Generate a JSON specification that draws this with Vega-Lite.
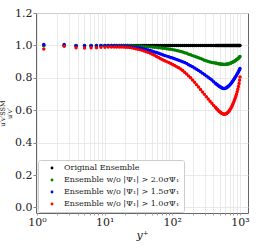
{
  "$schema": "https://vega.github.io/schema/vega-lite/v6.json",
  "autosize": {"type": "none"},
  "padding": {"left": 36, "top": 13, "right": 10, "bottom": 37},
  "width": 212,
  "height": 200,
  "background": "white",
  "config": {
    "view": {"stroke": "#666666", "strokeWidth": 1},
    "font": "DejaVu Serif"
  },
  "data": {
    "values": [
      {"y": 1.26, "k": 1, "g": 0.999, "b": 1.005, "r": 0.978},
      {"y": 2.52, "k": 1, "g": 1.0, "b": 1.006, "r": 0.995},
      {"y": 3.78, "k": 1, "g": 0.998, "b": 0.997, "r": 0.985},
      {"y": 5.04, "k": 1, "g": 0.998, "b": 0.997, "r": 0.984},
      {"y": 6.3, "k": 1, "g": 0.999, "b": 0.997, "r": 0.985},
      {"y": 7.56, "k": 1, "g": 0.999, "b": 0.997, "r": 0.986},
      {"y": 8.82, "k": 1, "g": 0.999, "b": 0.998, "r": 0.988},
      {"y": 10.1, "k": 1, "g": 1.0, "b": 0.998, "r": 0.989},
      {"y": 11.3, "k": 1, "g": 1.0, "b": 0.998, "r": 0.99},
      {"y": 12.6, "k": 1, "g": 1.0, "b": 0.998, "r": 0.99},
      {"y": 13.9, "k": 1, "g": 1.0, "b": 0.998, "r": 0.99},
      {"y": 15.1, "k": 1, "g": 1.0, "b": 0.997, "r": 0.99},
      {"y": 16.4, "k": 1, "g": 1.0, "b": 0.997, "r": 0.99},
      {"y": 17.7, "k": 1, "g": 1.0, "b": 0.997, "r": 0.99},
      {"y": 19.0, "k": 1, "g": 1.0, "b": 0.996, "r": 0.99},
      {"y": 20.4, "k": 1, "g": 0.9995, "b": 0.996, "r": 0.989},
      {"y": 21.9, "k": 1, "g": 0.999, "b": 0.995, "r": 0.988},
      {"y": 23.5, "k": 1, "g": 0.999, "b": 0.994, "r": 0.987},
      {"y": 25.2, "k": 1, "g": 0.998, "b": 0.993, "r": 0.985},
      {"y": 27.0, "k": 1, "g": 0.998, "b": 0.991, "r": 0.983},
      {"y": 29.0, "k": 1, "g": 0.997, "b": 0.989, "r": 0.98},
      {"y": 31.1, "k": 1, "g": 0.997, "b": 0.987, "r": 0.977},
      {"y": 33.4, "k": 1, "g": 0.996, "b": 0.985, "r": 0.974},
      {"y": 35.8, "k": 1, "g": 0.995, "b": 0.982, "r": 0.97},
      {"y": 38.4, "k": 1, "g": 0.994, "b": 0.979, "r": 0.966},
      {"y": 41.2, "k": 1, "g": 0.993, "b": 0.975, "r": 0.961},
      {"y": 44.2, "k": 1, "g": 0.992, "b": 0.972, "r": 0.957},
      {"y": 47.4, "k": 1, "g": 0.991, "b": 0.968, "r": 0.951},
      {"y": 50.8, "k": 1, "g": 0.99, "b": 0.964, "r": 0.945},
      {"y": 54.5, "k": 1, "g": 0.989, "b": 0.96, "r": 0.939},
      {"y": 58.4, "k": 1, "g": 0.988, "b": 0.956, "r": 0.932},
      {"y": 62.6, "k": 1, "g": 0.986, "b": 0.952, "r": 0.925},
      {"y": 67.1, "k": 1, "g": 0.985, "b": 0.947, "r": 0.918},
      {"y": 71.9, "k": 1, "g": 0.983, "b": 0.943, "r": 0.912},
      {"y": 77.0, "k": 1, "g": 0.982, "b": 0.938, "r": 0.906},
      {"y": 82.5, "k": 1, "g": 0.98, "b": 0.934, "r": 0.9},
      {"y": 88.4, "k": 1, "g": 0.978, "b": 0.93, "r": 0.894},
      {"y": 94.7, "k": 1, "g": 0.976, "b": 0.926, "r": 0.888},
      {"y": 101, "k": 1, "g": 0.974, "b": 0.922, "r": 0.882},
      {"y": 108, "k": 1, "g": 0.972, "b": 0.918, "r": 0.876},
      {"y": 116, "k": 1, "g": 0.969, "b": 0.913, "r": 0.869},
      {"y": 124, "k": 1, "g": 0.966, "b": 0.909, "r": 0.862},
      {"y": 133, "k": 1, "g": 0.962, "b": 0.904, "r": 0.854},
      {"y": 142, "k": 1, "g": 0.959, "b": 0.899, "r": 0.845},
      {"y": 152, "k": 1, "g": 0.955, "b": 0.894, "r": 0.835},
      {"y": 163, "k": 1, "g": 0.951, "b": 0.888, "r": 0.824},
      {"y": 174, "k": 1, "g": 0.946, "b": 0.881, "r": 0.812},
      {"y": 186, "k": 1, "g": 0.942, "b": 0.875, "r": 0.8},
      {"y": 199, "k": 1, "g": 0.937, "b": 0.868, "r": 0.787},
      {"y": 213, "k": 1, "g": 0.933, "b": 0.861, "r": 0.773},
      {"y": 228, "k": 1, "g": 0.929, "b": 0.853, "r": 0.758},
      {"y": 244, "k": 1, "g": 0.924, "b": 0.845, "r": 0.743},
      {"y": 261, "k": 1, "g": 0.919, "b": 0.837, "r": 0.728},
      {"y": 279, "k": 1, "g": 0.914, "b": 0.829, "r": 0.713},
      {"y": 298, "k": 1, "g": 0.909, "b": 0.821, "r": 0.698},
      {"y": 318, "k": 1, "g": 0.905, "b": 0.812, "r": 0.684},
      {"y": 339, "k": 1, "g": 0.901, "b": 0.803, "r": 0.67},
      {"y": 361, "k": 1, "g": 0.898, "b": 0.795, "r": 0.656},
      {"y": 384, "k": 1, "g": 0.895, "b": 0.786, "r": 0.643},
      {"y": 408, "k": 1, "g": 0.893, "b": 0.776, "r": 0.63},
      {"y": 433, "k": 1, "g": 0.891, "b": 0.766, "r": 0.618},
      {"y": 446, "k": 1, "g": 0.89, "b": 0.762, "r": 0.612},
      {"y": 459, "k": 1, "g": 0.889, "b": 0.758, "r": 0.606},
      {"y": 472, "k": 1, "g": 0.888, "b": 0.754, "r": 0.601},
      {"y": 486, "k": 1, "g": 0.887, "b": 0.75, "r": 0.596},
      {"y": 500, "k": 1, "g": 0.886, "b": 0.746, "r": 0.591},
      {"y": 514, "k": 1, "g": 0.885, "b": 0.743, "r": 0.587},
      {"y": 528, "k": 1, "g": 0.8845, "b": 0.74, "r": 0.583},
      {"y": 543, "k": 1, "g": 0.884, "b": 0.737, "r": 0.58},
      {"y": 558, "k": 1, "g": 0.8835, "b": 0.735, "r": 0.578},
      {"y": 573, "k": 1, "g": 0.883, "b": 0.734, "r": 0.576},
      {"y": 588, "k": 1, "g": 0.883, "b": 0.734, "r": 0.576},
      {"y": 604, "k": 1, "g": 0.883, "b": 0.735, "r": 0.576},
      {"y": 620, "k": 1, "g": 0.8835, "b": 0.737, "r": 0.578},
      {"y": 636, "k": 1, "g": 0.884, "b": 0.74, "r": 0.58},
      {"y": 652, "k": 1, "g": 0.885, "b": 0.743, "r": 0.584},
      {"y": 669, "k": 1, "g": 0.886, "b": 0.747, "r": 0.588},
      {"y": 686, "k": 1, "g": 0.8875, "b": 0.751, "r": 0.594},
      {"y": 703, "k": 1, "g": 0.889, "b": 0.755, "r": 0.6},
      {"y": 720, "k": 1, "g": 0.8905, "b": 0.76, "r": 0.607},
      {"y": 738, "k": 1, "g": 0.892, "b": 0.765, "r": 0.614},
      {"y": 756, "k": 1, "g": 0.894, "b": 0.771, "r": 0.623},
      {"y": 774, "k": 1, "g": 0.896, "b": 0.777, "r": 0.632},
      {"y": 792, "k": 1, "g": 0.898, "b": 0.783, "r": 0.642},
      {"y": 811, "k": 1, "g": 0.9, "b": 0.79, "r": 0.652},
      {"y": 830, "k": 1, "g": 0.9025, "b": 0.796, "r": 0.663},
      {"y": 849, "k": 1, "g": 0.905, "b": 0.803, "r": 0.674},
      {"y": 868, "k": 1, "g": 0.908, "b": 0.809, "r": 0.686},
      {"y": 888, "k": 1, "g": 0.911, "b": 0.816, "r": 0.699},
      {"y": 908, "k": 1, "g": 0.9145, "b": 0.823, "r": 0.714},
      {"y": 928, "k": 1, "g": 0.918, "b": 0.83, "r": 0.73},
      {"y": 948, "k": 1, "g": 0.921, "b": 0.837, "r": 0.747},
      {"y": 969, "k": 1, "g": 0.925, "b": 0.845, "r": 0.765},
      {"y": 985, "k": 1, "g": 0.928, "b": 0.851, "r": 0.785},
      {"y": 1000, "k": 1, "g": 0.932, "b": 0.858, "r": 0.805}
    ]
  },
  "transform": [{"fold": ["k", "g", "b", "r"], "as": ["series", "ratio"]}],
  "mark": {"type": "point", "filled": true, "shape": "circle", "size": 12, "opacity": 1},
  "encoding": {
    "x": {
      "field": "y", "type": "quantitative",
      "scale": {"type": "log", "domain": [0.967, 1313], "nice": false},
      "axis": {
        "title": "y⁺",
        "titleFont": "DejaVu Serif", "titleFontStyle": "italic", "titleFontWeight": "normal", "titleFontSize": 11, "titleColor": "#222", "titlePadding": 2,
        "values": [1,2,3,4,5,6,7,8,9,10,20,30,40,50,60,70,80,90,100,200,300,400,500,600,700,800,900,1000],
        "labelExpr": "datum.value == 1 ? '10⁰' : datum.value == 10 ? '10¹' : datum.value == 100 ? '10²' : datum.value == 1000 ? '10³' : ''",
        "labelOverlap": false, "labelFlush": false,
        "labelFont": "DejaVu Serif", "labelFontSize": 11, "labelColor": "#222", "labelPadding": 1,
        "grid": true, "gridColor": "#e5e5e5", "gridWidth": 0.8,
        "domain": false, "tickColor": "#666", "tickSize": 2, "tickWidth": 0.6
      }
    },
    "y": {
      "field": "ratio", "type": "quantitative",
      "scale": {"domain": [-0.034, 1.2], "nice": false, "zero": false},
      "axis": {
        "title": ["u′v′SSM", "u′v′"],
        "titleFont": "DejaVu Serif", "titleFontWeight": "normal", "titleFontSize": 6.5, "titleColor": "#222", "titlePadding": 2, "titleLineHeight": 7,
        "values": [0, 0.2, 0.4, 0.6, 0.8, 1.0, 1.2],
        "format": ".1f",
        "labelFont": "DejaVu Serif", "labelFontSize": 11, "labelColor": "#222", "labelPadding": 1,
        "grid": true, "gridColor": "#e5e5e5", "gridWidth": 0.8,
        "domain": false, "tickColor": "#666", "tickSize": 3, "tickWidth": 0.8
      }
    },
    "color": {
      "field": "series", "type": "nominal",
      "scale": {"domain": ["k", "g", "b", "r"], "range": ["#000000", "#008000", "#0000ff", "#ff0000"]},
      "legend": {
        "title": null,
        "orient": "none", "legendX": 2, "legendY": 147,
        "fillColor": "white", "strokeColor": "#cccccc", "cornerRadius": 2, "padding": 4,
        "labelExpr": "datum.label == 'k' ? 'Original Ensemble' : datum.label == 'g' ? 'Ensemble w/o |Ψ₁| > 2.0σΨ₁' : datum.label == 'b' ? 'Ensemble w/o |Ψ₁| > 1.5σΨ₁' : 'Ensemble w/o |Ψ₁| > 1.0σΨ₁'",
        "labelFont": "DejaVu Serif", "labelFontSize": 8, "labelColor": "#222", "labelLimit": 200,
        "symbolType": "circle", "symbolSize": 8, "symbolStrokeWidth": 0, "symbolOffset": 6,
        "rowPadding": 4, "labelOffset": 8
      }
    }
  }
}
